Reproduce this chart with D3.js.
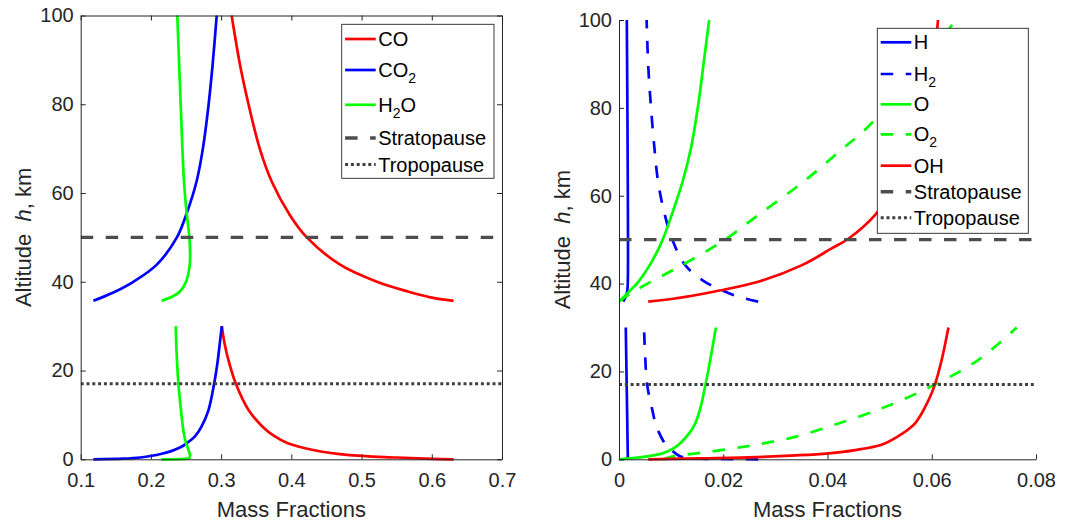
<!DOCTYPE html>
<html>
<head>
<meta charset="utf-8">
<script src="https://cdn.jsdelivr.net/npm/d3@7"></script>
<style>
  body { margin: 0; background: #fff; }
  svg { display: block; font-family: 'Liberation Sans', Arial, sans-serif; }
  .axis text { font-size: 20px; fill: #262626; font-family: 'Liberation Sans', Arial, sans-serif; }
  .axis path, .axis line { stroke: #262626; }
  .label { font-size: 22px; fill: #262626; white-space: pre; }
  .legend text { font-size: 20px; fill: #000; }
</style>
</head>
<body>
<svg id="chart" width="1075" height="521"></svg>
<script>
// every pair is [altitude km, mass fraction]; each species has a lower (0-30 km)
// and an upper (~36-100 km) branch

// left panel: carbon species and water
const CO_LOW = [[0, 0.631], [0.1, 0.600], [0.4, 0.550], [1.0, 0.479], [2.1, 0.431], [3.6, 0.395],
  [5.2, 0.376], [7.35, 0.359], [11.1, 0.339], [17, 0.321], [22, 0.311], [26, 0.305], [30, 0.301]];
const CO_HIGH = [[35.7, 0.631], [36.5, 0.598], [37.8, 0.566], [40, 0.522], [43.8, 0.470], [50, 0.422],
  [55, 0.398], [62.6, 0.372], [70, 0.355], [80, 0.339], [88.8, 0.327], [100, 0.315]];
const CO2_LOW = [[0, 0.118], [0.14, 0.161], [0.4, 0.185], [0.74, 0.199], [1.2, 0.214], [1.9, 0.230],
  [2.7, 0.242], [3.6, 0.251], [5.2, 0.263], [7.35, 0.272], [11.1, 0.282], [17, 0.290], [22, 0.295],
  [26, 0.298], [30, 0.301]];
const CO2_HIGH = [[35.7, 0.118], [37.4, 0.144], [40, 0.175], [43.8, 0.208], [50, 0.237], [55, 0.250],
  [62.6, 0.265], [70, 0.274], [80, 0.2822], [88.8, 0.2878], [100, 0.2937]];
const H2O_LOW = [[0, 0.215], [0.08, 0.246], [0.3, 0.2545], [0.8, 0.2557], [1.5, 0.2548], [3.6, 0.2502],
  [6, 0.2467], [11.1, 0.2428], [17, 0.2392], [24, 0.2366], [30, 0.2353]];
const H2O_HIGH = [[35.7, 0.2153], [36.8, 0.232], [37.8, 0.2414], [40, 0.25], [43.8, 0.2553], [47, 0.2558],
  [50, 0.2548], [55, 0.2512], [62.6, 0.2471], [80, 0.2424], [100, 0.2376]];

// right panel: hydrogen / oxygen radicals
const H_LOW = [[0, 0.0017], [15, 0.0015], [30, 0.0013]];
const H_HIGH = [[35.9, 0.0008], [37, 0.0013], [38.5, 0.0016], [41, 0.0017], [60, 0.0017], [100, 0.0015]];
const H2_LOW = [[0, 0.0267], [0.08, 0.019], [0.3, 0.0135], [0.7, 0.0117], [1.3, 0.0109], [2.5, 0.0096],
  [3.6, 0.0088], [7.4, 0.0072], [11.2, 0.0064], [17, 0.0054], [24, 0.005], [30, 0.0048]];
const H2_HIGH = [[35.9, 0.0267], [37, 0.0229], [38.2, 0.0203], [40.4, 0.0165], [44.2, 0.0127],
  [49.5, 0.0104], [55.6, 0.0088], [63.2, 0.0075], [70.8, 0.0068], [80.7, 0.0061], [89.8, 0.0056],
  [100, 0.0053]];
const O_LOW = [[0, 0], [0.5, 0.0044], [1.3, 0.0082], [2.3, 0.0102], [3.6, 0.0117], [7.4, 0.0143],
  [11.2, 0.0155], [17, 0.0166], [22.6, 0.0175], [30, 0.0186]];
const O_HIGH = [[35.9, 0], [38, 0.0018], [40.4, 0.0037], [44.2, 0.0059], [49.5, 0.0082], [55.6, 0.0101],
  [63.2, 0.0122], [70.8, 0.0138], [80.7, 0.0152], [89.8, 0.0162], [100, 0.0173]];
const O2_LOW = [[0, 0.0085], [0.6, 0.0102], [1.1, 0.013], [1.7, 0.0172], [2.4, 0.0215], [3.1, 0.0252],
  [3.8, 0.0285], [5.1, 0.0338], [7.8, 0.0412], [11.6, 0.0504], [16.6, 0.0599], [22.6, 0.0689], [30, 0.0763]];
const O2_HIGH = [[35.9, 0], [38.2, 0.0028], [43.5, 0.011], [49.5, 0.0197], [55.6, 0.0267], [63.2, 0.0354],
  [70.8, 0.043], [75, 0.0472], [85, 0.055], [92, 0.0598], [100, 0.0645]];
const OH_LOW = [[0, 0.0056], [0.15, 0.0125], [0.45, 0.0248], [0.9, 0.034], [1.37, 0.0402], [2.1, 0.0453],
  [3.25, 0.0502], [5, 0.0532], [8.2, 0.0568], [13.5, 0.0594], [17, 0.0606], [22.6, 0.0619], [30, 0.0632]];
const OH_HIGH = [[35.9, 0.0056], [36.6, 0.0107], [38.2, 0.0184], [40.4, 0.0267], [44.2, 0.0351],
  [48, 0.0408], [50.2, 0.044], [55.6, 0.0491], [65, 0.0545], [75, 0.0578], [85, 0.0597], [95, 0.0608],
  [100, 0.0612]];

const STRATOPAUSE = 50;
const TROPOPAUSE = 17;

const Y_TICKS = [0, 20, 40, 60, 80, 100];
const LEFT_X_TICKS = [0.1, 0.2, 0.3, 0.4, 0.5, 0.6, 0.7];
const RIGHT_X_TICKS = [0, 0.02, 0.04, 0.06, 0.08];

const RED = '#ff0000', BLUE = '#0000ff', GREEN = '#00ff00', GREY = '#4d4d4d';
const DASH = '12.5,12.5';

const pauses = [
  { name: 'Stratopause', alt: STRATOPAUSE, color: GREY, dash: DASH, width: 3.4 },
  { name: 'Tropopause', alt: TROPOPAUSE, color: '#404040', dash: '3,2.8', width: 3 }
];

const panels = [
  {
    left: 80.7, right: 502, top: 15.5, bottom: 459.3,
    xDomain: [0.1, 0.7], xTicks: LEFT_X_TICKS, box: true,
    series: [
      { name: 'CO', color: RED, segments: [CO_LOW, CO_HIGH] },
      { name: 'CO_2', color: BLUE, segments: [CO2_LOW, CO2_HIGH] },
      { name: 'H_2O', color: GREEN, segments: [H2O_LOW, H2O_HIGH] }
    ],
    legend: { x: 341.7, y: 24.3, w: 152.3, h: 154, rows: [14.7, 45.7, 80.5, 113.7, 140.2] }
  },
  {
    left: 619, right: 1036, top: 20, bottom: 459.3,
    xDomain: [0, 0.08], xTicks: RIGHT_X_TICKS, box: false,
    series: [
      { name: 'H', color: BLUE, segments: [H_LOW, H_HIGH] },
      { name: 'H_2', color: BLUE, dash: DASH, segments: [H2_LOW, H2_HIGH] },
      { name: 'O', color: GREEN, segments: [O_LOW, O_HIGH] },
      { name: 'O_2', color: GREEN, dash: DASH, segments: [O2_LOW, O2_HIGH] },
      { name: 'OH', color: RED, segments: [OH_LOW, OH_HIGH] }
    ],
    legend: { x: 877.3, y: 28.3, w: 151, h: 205, rows: [14, 45.7, 76, 106, 137.4, 163.4, 189.4] }
  }
];

const svg = d3.select('svg#chart');
const fmt = d => String(+d.toFixed(2));

// writes "CO_2" style names with a real subscript
function writeName(text, name) {
  let down = false;
  name.split(/_(\d)/).forEach((part, k) => {
    if (!part) return;
    const sub = k % 2 === 1;
    const t = text.append('tspan').text(part);
    if (sub) t.attr('font-size', 14).attr('dy', 6);
    else if (down) t.attr('dy', -6);
    down = sub;
  });
}

function drawPanel(p, i) {
  const x = d3.scaleLinear().domain(p.xDomain).range([p.left, p.right]);
  const y = d3.scaleLinear().domain([0, 100]).range([p.bottom, p.top]);
  const g = svg.append('g');

  g.append('clipPath')
    .attr('id', 'clip' + i)
    .append('rect')
    .attr('x', p.left)
    .attr('y', p.top - 2)
    .attr('width', p.right - p.left)
    .attr('height', p.bottom - p.top + 4);

  const line = d3
    .line()
    .x(d => x(d[1]))
    .y(d => y(d[0]))
    .curve(d3.curveCatmullRom.alpha(0.5));

  const plot = g.append('g').attr('clip-path', `url(#clip${i})`);

  p.series.forEach(s => {
    s.segments.forEach(seg => {
      plot
        .append('path')
        .attr('d', line(seg))
        .style('fill', 'none')
        .style('stroke', s.color)
        .style('stroke-width', 2.7)
        .style('stroke-dasharray', s.dash || null);
    });
  });

  pauses.forEach(q => {
    plot
      .append('line')
      .attr('x1', p.left)
      .attr('x2', p.right)
      .attr('y1', y(q.alt))
      .attr('y2', y(q.alt))
      .style('stroke', q.color)
      .style('stroke-width', q.width)
      .style('stroke-dasharray', q.dash);
  });

  // axes, ticks pointing inwards like matlab
  g.append('g')
    .attr('class', 'axis')
    .attr('transform', `translate(0,${p.bottom})`)
    .call(d3.axisBottom(x).tickValues(p.xTicks).tickSize(-5).tickSizeOuter(0).tickPadding(14).tickFormat(fmt));

  g.append('g')
    .attr('class', 'axis')
    .attr('transform', `translate(${p.left},0)`)
    .call(d3.axisLeft(y).tickValues(Y_TICKS).tickSize(-5).tickSizeOuter(0).tickPadding(7).tickFormat(fmt));

  if (p.box) {
    g.append('g')
      .attr('class', 'axis')
      .attr('transform', `translate(0,${p.top})`)
      .call(d3.axisTop(x).tickValues(p.xTicks).tickSize(-5).tickSizeOuter(0).tickFormat(''));
    g.append('g')
      .attr('class', 'axis')
      .attr('transform', `translate(${p.right},0)`)
      .call(d3.axisRight(y).tickValues(Y_TICKS).tickSize(-5).tickSizeOuter(0).tickFormat(''));
  }

  g.selectAll('.axis .domain').style('stroke-width', 1);

  g.append('text')
    .attr('class', 'label')
    .attr('x', (p.left + p.right) / 2)
    .attr('y', 517)
    .attr('text-anchor', 'middle')
    .text('Mass Fractions');

  const yl = g
    .append('text')
    .attr('class', 'label')
    .attr('text-anchor', 'middle')
    .attr('transform', `translate(${p.left - 49.5},${(p.top + p.bottom) / 2}) rotate(-90)`);
  yl.append('tspan').text('Altitude  ');
  yl.append('tspan').style('font-style', 'italic').text('h');
  yl.append('tspan').text(', km');

  // legend
  const L = p.legend;
  const lg = g.append('g').attr('class', 'legend');
  lg.append('rect')
    .attr('x', L.x)
    .attr('y', L.y)
    .attr('width', L.w)
    .attr('height', L.h)
    .style('fill', '#fff')
    .style('stroke', '#262626')
    .style('stroke-width', 0.9);

  const entries = p.series
    .map(s => ({ name: s.name, color: s.color, dash: s.dash, width: 2.7 }))
    .concat(pauses);

  entries.forEach((e, k) => {
    const cy = L.y + L.rows[k];
    lg.append('line')
      .attr('x1', L.x + 3.4)
      .attr('x2', L.x + 34)
      .attr('y1', cy)
      .attr('y2', cy)
      .style('stroke', e.color)
      .style('stroke-width', e.width)
      .style('stroke-dasharray', e.dash || null);
    const t = lg.append('text')
      .attr('x', L.x + 36.5)
      .attr('y', cy)
      .attr('dy', '0.35em');
    writeName(t, e.name);
  });
}

panels.forEach(drawPanel);
</script>
</body>
</html>
